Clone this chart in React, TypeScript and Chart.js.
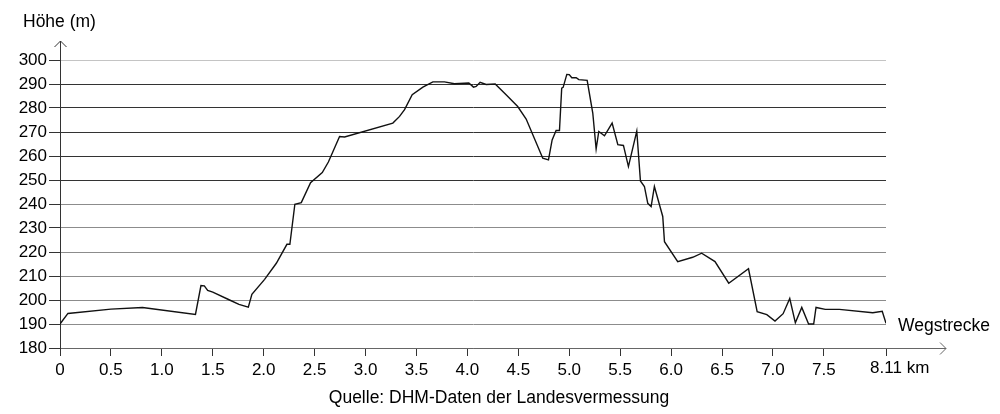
import React, { useEffect, useRef } from "react";
import { Chart, registerables } from "chart.js";

Chart.register(...registerables);

// Distance along the route (km)
const distanceKm = [
  0, 0.078, 0.5, 0.81, 1.33, 1.384, 1.417, 1.45, 1.5, 1.665,
  1.757, 1.849, 1.884, 2.009, 2.124, 2.228, 2.257, 2.306, 2.369, 2.46,
  2.575, 2.635, 2.745, 2.794, 3.268, 3.334, 3.383, 3.458, 3.563, 3.661,
  3.775, 3.873, 4.014, 4.06, 4.086, 4.125, 4.184, 4.273, 4.38, 4.494,
  4.577, 4.74, 4.796, 4.832, 4.871, 4.904, 4.926, 4.94, 4.976, 5.0,
  5.025, 5.068, 5.094, 5.176, 5.231, 5.264, 5.29, 5.346, 5.421, 5.477,
  5.532, 5.581, 5.663, 5.699, 5.738, 5.771, 5.804, 5.836, 5.918, 5.935,
  6.065, 6.212, 6.3, 6.431, 6.566, 6.76, 6.845, 6.94, 7.02, 7.1,
  7.165, 7.22, 7.283, 7.35, 7.4, 7.423, 7.514, 7.652, 7.98, 8.073,
  8.11,
];

// Elevation (m)
const elevationM = [
  190, 194.4, 196.2, 196.9, 194.0, 206.0, 205.9, 204.0, 203.3, 200.0,
  198.2, 197.0, 202.4, 208.6, 215.3, 223.2, 223.2, 239.9, 240.6, 248.9,
  253.1, 257.5, 268.1, 267.9, 273.7, 276.5, 279.3, 285.5, 288.7, 290.9,
  290.9, 290.1, 290.4, 288.7, 289.0, 290.7, 289.8, 290.0, 285.5, 280.6,
  275.4, 259.1, 258.4, 266.7, 270.6, 270.6, 288.3, 288.6, 294.0, 293.9,
  292.6, 292.6, 291.8, 291.5, 277.9, 262.9, 270.2, 268.4, 273.7, 264.7,
  264.4, 255.6, 270.4, 249.6, 247.3, 240.3, 238.9, 247.3, 234.8, 224.3,
  216.0, 217.8, 219.5, 216.0, 207.0, 213.0, 195.1, 193.9, 191.2, 194.3,
  200.6, 190.5, 196.9, 190.0, 190.0, 196.9, 196.1, 196.1, 194.7, 195.3,
  190.3,
];

const yTickValues = [180, 190, 200, 210, 220, 230, 240, 250, 260, 270, 280, 290, 300];
const xTickValues = [0, 0.5, 1, 1.5, 2, 2.5, 3, 3.5, 4, 4.5, 5, 5.5, 6, 6.5, 7, 7.5, 8.11];
const xTickLabels = [
  "0", "0.5", "1.0", "1.5", "2.0", "2.5", "3.0", "3.5", "4.0", "4.5",
  "5.0", "5.5", "6.0", "6.5", "7.0", "7.5", "8.11 km",
];

const yTitle = "Höhe (m)";
const xTitle = "Wegstrecke";
const sourceNote = "Quelle: DHM-Daten der Landesvermessung";

const FONT = "'Liberation Sans', Arial, Helvetica, sans-serif";
const TICK_SIZE = 17;
const TEXT_SIZE = 17.5;

const gridColor = (v: number | undefined) => {
  if (v === 300) return "#c4c4c4";
  if (v === 180) return "#777777";
  if (v !== undefined && v >= 250) return "#333333";
  return "#8c8c8c";
};

const decorPlugin = {
  id: "decor",
  afterDraw(chart: any) {
    const ctx = chart.ctx;
    const xs = chart.scales.x;
    const ys = chart.scales.y;
    const left = xs.getPixelForValue(0);
    const right = xs.getPixelForValue(8.11);
    const bottom = ys.getPixelForValue(180);
    const top = ys.getPixelForValue(300);
    ctx.save();
    // y-axis extension + arrow
    ctx.strokeStyle = "#333333";
    ctx.lineWidth = 1;
    const lx = Math.round(left) + 0.5;
    ctx.beginPath();
    ctx.moveTo(lx, top);
    ctx.lineTo(lx, top - 19);
    ctx.stroke();
    ctx.beginPath();
    ctx.moveTo(lx - 6, top - 13);
    ctx.lineTo(lx, top - 19);
    ctx.lineTo(lx + 6, top - 13);
    ctx.stroke();
    // x-axis extension + arrow
    ctx.strokeStyle = "#666666";
    const by = Math.round(bottom) + 0.5;
    const ax = right + 60;
    ctx.beginPath();
    ctx.moveTo(right, by);
    ctx.lineTo(ax, by);
    ctx.stroke();
    ctx.beginPath();
    ctx.moveTo(ax - 6, by - 6);
    ctx.lineTo(ax, by);
    ctx.lineTo(ax - 6, by + 6);
    ctx.stroke();

    // texts
    ctx.fillStyle = "#000000";
    ctx.font = `${TEXT_SIZE}px ${FONT}`;
    ctx.textBaseline = "alphabetic";
    ctx.textAlign = "left";
    ctx.fillText(yTitle, 23, 27);
    ctx.fillText(xTitle, 898, 331);
    ctx.textAlign = "center";
    ctx.fillText(sourceNote, 499, 403);

    // last tick label "8.11 km", centred on its number
    const last = xTickLabels[xTickLabels.length - 1];
    ctx.font = `${TICK_SIZE}px ${FONT}`;
    const num = last.split(" ")[0];
    const w = ctx.measureText(num).width;
    ctx.textAlign = "left";
    ctx.textBaseline = "top";
    ctx.fillText(last, right - w / 2, bottom + 8 + 4);
    ctx.restore();
  },
};

export default function App() {
  const canvasRef = useRef<HTMLCanvasElement | null>(null);

  useEffect(() => {
    document.body.style.margin = "0";
    const canvas = canvasRef.current;
    if (!canvas) return;
    const points = distanceKm.map((x, i) => ({ x, y: elevationM[i] }));
    const chart = new Chart(canvas, {
      type: "line",
      data: {
        datasets: [
          {
            data: points,
            borderColor: "#111111",
            borderWidth: 1.4,
            pointRadius: 0,
            fill: false,
            tension: 0,
          },
        ],
      },
      options: {
        animation: false,
        responsive: false,
        devicePixelRatio: 1,
        layout: { padding: { left: 0, top: 60, right: 114, bottom: 36 } },
        plugins: {
          legend: { display: false },
          tooltip: { enabled: false },
        },
        scales: {
          x: {
            type: "linear",
            min: 0,
            max: 8.11,
            afterBuildTicks: (s: any) => {
              s.ticks = xTickValues.map((v) => ({ value: v }));
            },
            afterFit: (s: any) => {
              s.height = 30;
            },
            ticks: {
              autoSkip: false,
              maxRotation: 0,
              minRotation: 0,
              padding: 4,
              color: "#000000",
              font: { family: FONT, size: TICK_SIZE },
              callback: (_v: any, i: number) =>
                i === xTickLabels.length - 1 ? "" : xTickLabels[i],
            },
            grid: {
              drawOnChartArea: false,
              drawTicks: true,
              tickLength: 8,
              color: "#333333",
            },
            border: { display: true, color: "#666666", width: 1 },
          },
          y: {
            type: "linear",
            min: 180,
            max: 300,
            afterBuildTicks: (s: any) => {
              s.ticks = yTickValues.map((v) => ({ value: v }));
            },
            afterFit: (s: any) => {
              s.width = 60;
            },
            ticks: {
              padding: 2,
              color: "#000000",
              font: { family: FONT, size: TICK_SIZE },
              callback: (v: any) => String(v),
            },
            grid: {
              color: (c: any) => gridColor(c.tick ? c.tick.value : undefined),
              tickColor: "#333333",
              tickLength: 11,
              lineWidth: 1,
            },
            border: { display: true, color: "#333333", width: 1 },
          },
        },
      },
      plugins: [decorPlugin],
    });
    return () => chart.destroy();
  }, []);

  return (
    <div
      style={{
        position: "fixed",
        left: 0,
        top: 0,
        width: 1000,
        height: 414,
        background: "#ffffff",
      }}
    >
      <canvas ref={canvasRef} width={1000} height={414} style={{ display: "block" }} />
    </div>
  );
}
